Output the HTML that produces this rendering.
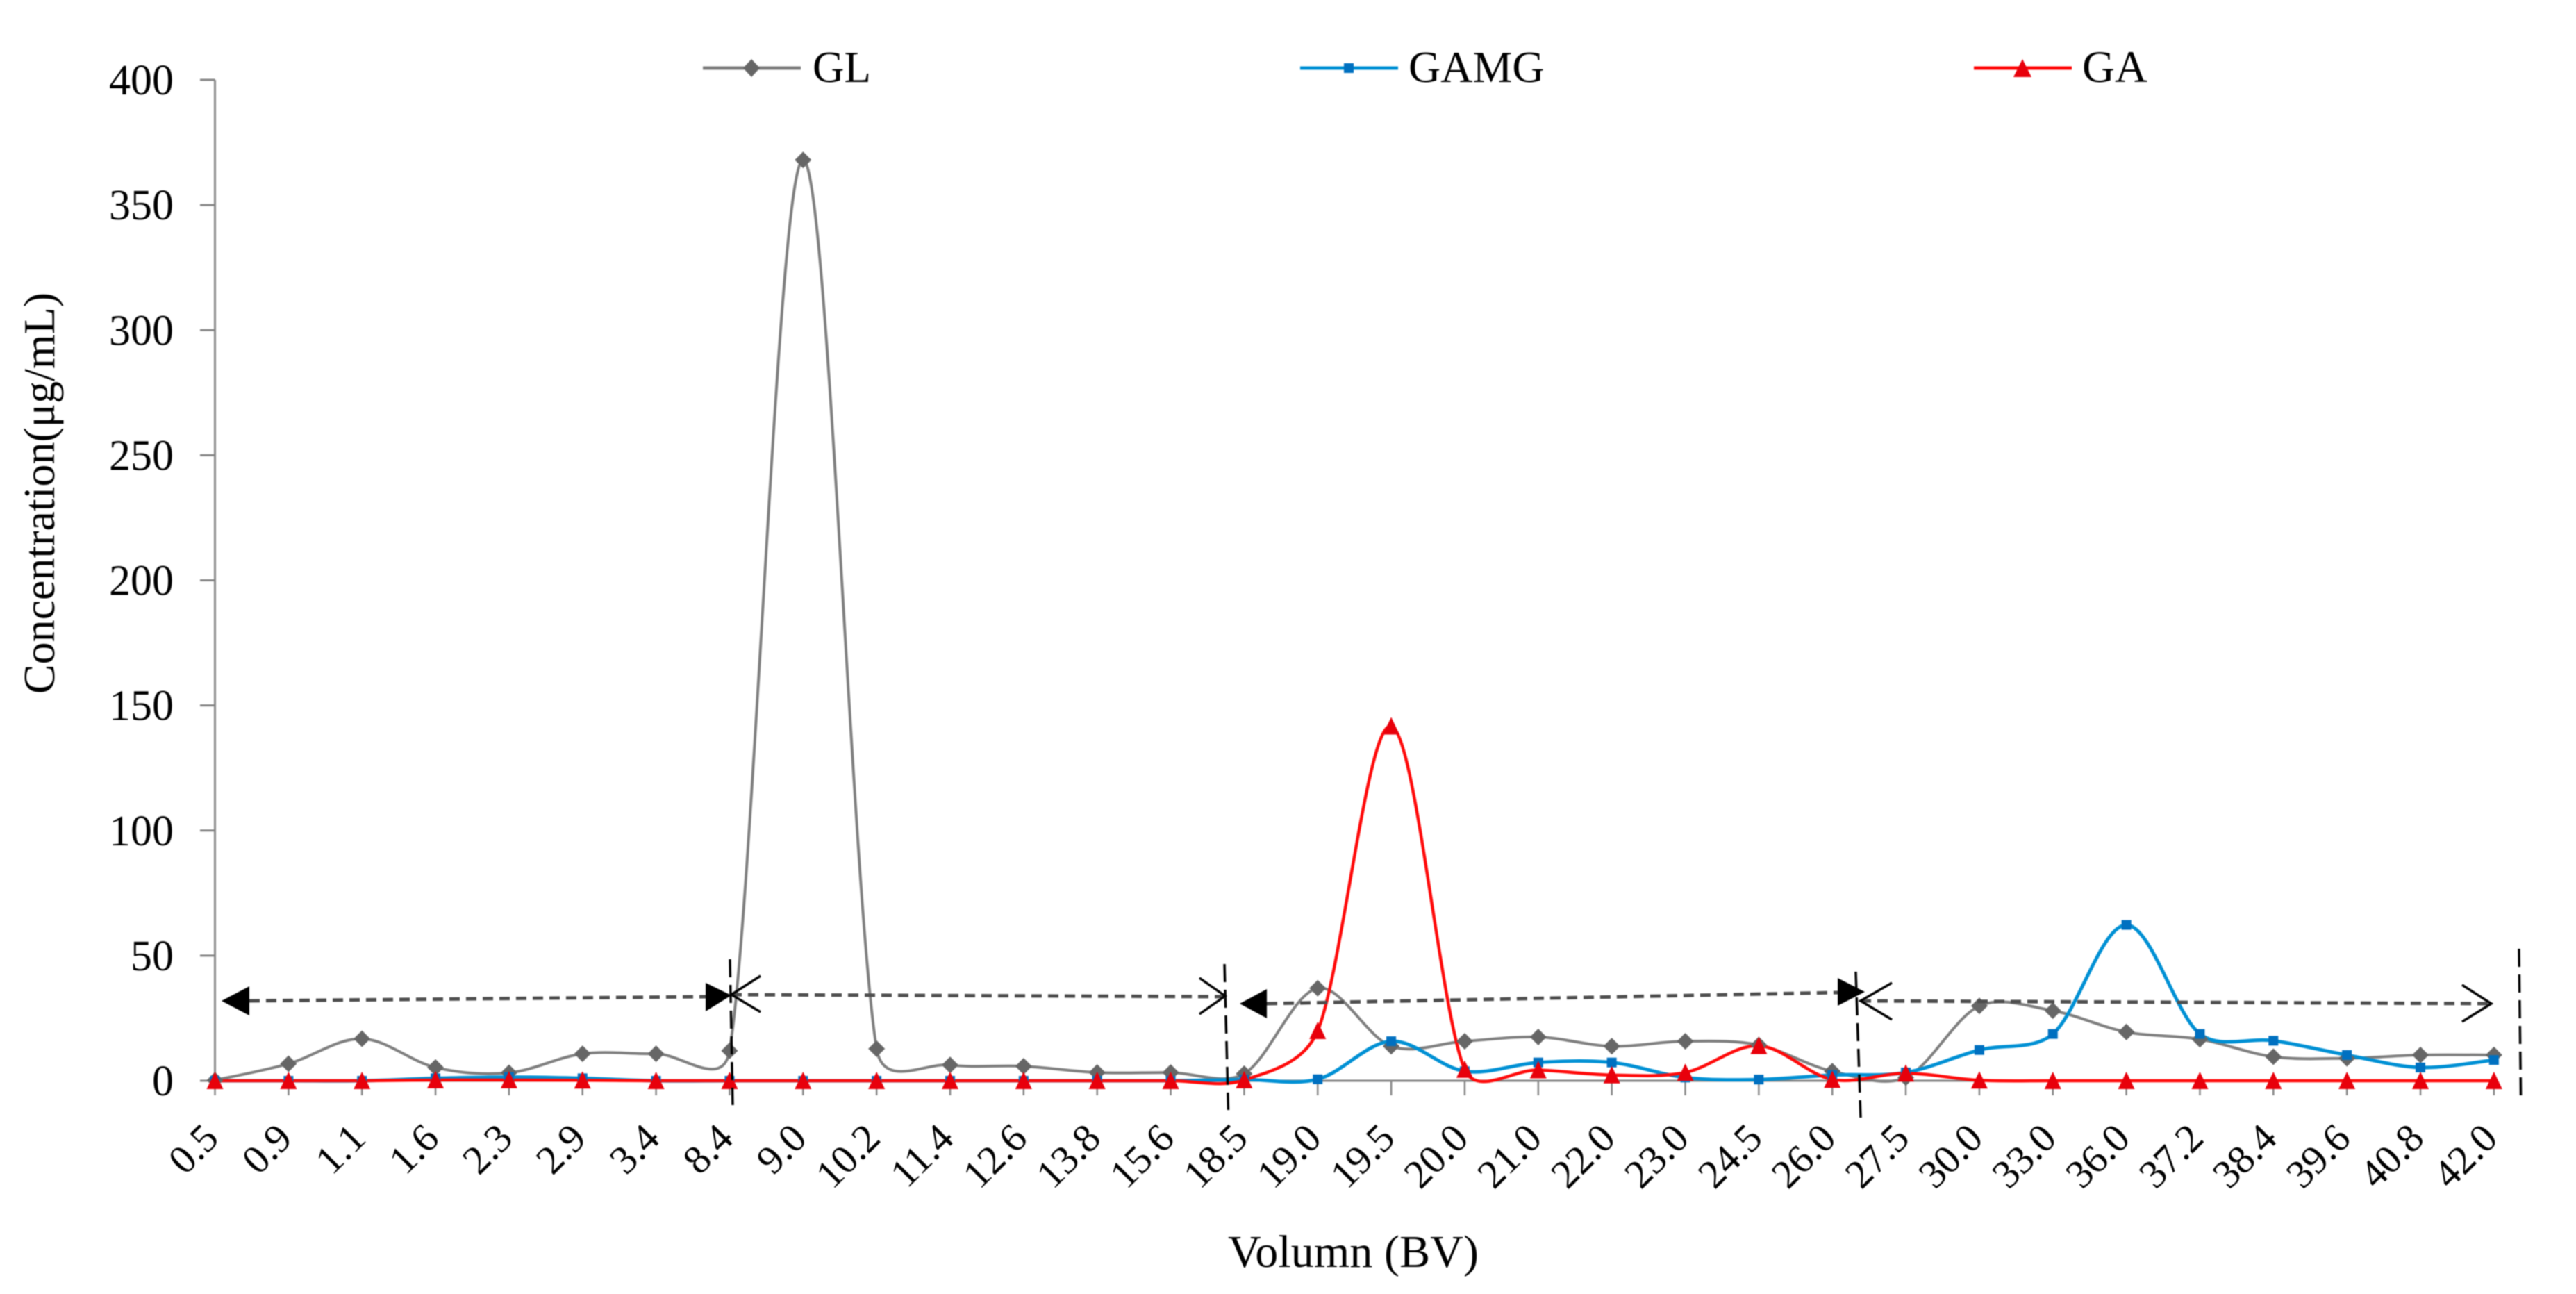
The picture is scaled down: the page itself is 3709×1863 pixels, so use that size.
<!DOCTYPE html>
<html lang="en">
<head>
<meta charset="utf-8">
<title>Concentration vs Volumn chart</title>
<style>
html,body{margin:0;padding:0;background:#fff;}
#chart{display:block;width:3709px;height:1863px;filter:blur(0.7px);font-family:"Liberation Serif",serif;fill:#000;}
</style>
</head>
<body>
<svg id="chart" xmlns="http://www.w3.org/2000/svg" width="3709" height="1863" viewBox="0 0 3709 1863">
  <rect x="0" y="0" width="3709" height="1863" fill="#ffffff"/>
  <g id="axes"></g>
  <g id="series"></g>

  <g stroke="#000" fill="none">
    <line x1="1051" y1="1381" x2="1055" y2="1591" stroke-width="3.5" stroke-dasharray="26 11"/>
    <line x1="1763" y1="1388" x2="1768.5" y2="1598" stroke-width="3.5" stroke-dasharray="26 11"/>
    <line x1="2672" y1="1399" x2="2679" y2="1609" stroke-width="3.5" stroke-dasharray="26 11"/>
    <line x1="3627" y1="1366" x2="3629.5" y2="1577" stroke-width="3.5" stroke-dasharray="26 11"/>

    <line x1="359" y1="1441" x2="1016" y2="1435" stroke="#4d4d4d" stroke-width="5" stroke-dasharray="15 9"/>
    <polygon points="319,1441 359,1420 359,1462" fill="#000" stroke="none"/>
    <polygon points="1053,1433 1016,1415 1016,1456" fill="#000" stroke="none"/>

    <line x1="1053" y1="1432" x2="1764" y2="1435" stroke="#4d4d4d" stroke-width="5" stroke-dasharray="15 9"/>
    <polyline points="1095,1405 1053,1432 1095,1457" stroke-width="3.5"/>
    <polyline points="1727,1408 1764,1434 1727,1460" stroke-width="3.5"/>

    <line x1="1824" y1="1445" x2="2646" y2="1429" stroke="#4d4d4d" stroke-width="5" stroke-dasharray="15 9"/>
    <polygon points="1785,1445 1824,1424 1824,1466" fill="#000" stroke="none"/>
    <polygon points="2685,1428 2646,1408 2646,1448" fill="#000" stroke="none"/>

    <line x1="2679" y1="1441" x2="3587" y2="1445" stroke="#4d4d4d" stroke-width="5" stroke-dasharray="15 9"/>
    <polyline points="2724,1415 2679,1441 2724,1468" stroke-width="3.5"/>
    <polyline points="3545,1418 3587,1445 3545,1471" stroke-width="3.5"/>
  </g>

  <g>
    <g>
      <line x1="1012" y1="98" x2="1153" y2="98" stroke="#7f7f7f" stroke-width="5"/>
      <polygon points="1082,85 1094,98 1082,111 1070,98" fill="#666666"/>
      <text x="1170" y="118" font-size="63">GL</text>
    </g>
    <g>
      <line x1="1872" y1="98" x2="2013" y2="98" stroke="#0090d4" stroke-width="5"/>
      <rect x="1935" y="91" width="14" height="14" fill="#0070c0"/>
      <text x="2028" y="118" font-size="64">GAMG</text>
    </g>
    <g>
      <line x1="2842" y1="98" x2="2983" y2="98" stroke="#ff0a0a" stroke-width="5"/>
      <polygon points="2912,85 2925,111 2899,111" fill="#e8000b"/>
      <text x="2998" y="118" font-size="65">GA</text>
    </g>
  </g>

  <text x="1768" y="1824" font-size="66" textLength="361">Volumn (BV)</text>
  <text transform="translate(78,710) rotate(-90)" text-anchor="middle" font-size="64">Concentration(μg/mL)</text>
</svg>

<script>
var categories = ["0.5","0.9","1.1","1.6","2.3","2.9","3.4","8.4","9.0","10.2","11.4","12.6","13.8","15.6","18.5","19.0","19.5","20.0","21.0","22.0","23.0","24.5","26.0","27.5","30.0","33.0","36.0","37.2","38.4","39.6","40.8","42.0"];
var yTicks = [0,50,100,150,200,250,300,350,400];
var glValues = [0.2,6.8,16.8,5.3,3.2,10.8,10.8,12,368,12.8,6.3,5.8,3.3,3.3,2.8,37,13.8,15.8,17.5,13.8,15.8,14.3,3.8,1.3,29.9,28,19.5,16.6,9.6,9,10.3,10.3];
var gamgValues = [0,0,0,1,1.5,1,0,0,0,0,0,0,0,0,0.5,0.6,15.8,3.8,7.3,7.3,1.3,0.5,2.3,3.3,12.3,18.7,62.3,18.7,16,10.3,5.3,8.3];
var gaValues = [0,0,0,0.3,0.3,0.2,0,0,0,0,0,0,0,0,0.3,20,141.7,4.5,4.3,2.3,3.3,14,0.5,3,0.2,0,0,0,0,0,0,0];

var svgNS = 'http://www.w3.org/2000/svg';
function xPos(i){ return 309.5 + i * 105.85; }
function yPos(v){ return 1556 - v * 3.6025; }
function make(tag, parent){
  var el = document.createElementNS(svgNS, tag);
  parent.appendChild(el);
  return el;
}
function dist(a, b){ return Math.sqrt((a[0]-b[0])*(a[0]-b[0]) + (a[1]-b[1])*(a[1]-b[1])); }
function handles(p0, p1, p2){
  var d1 = dist(p0, p1), d2 = dist(p1, p2);
  var s = d1 + d2 || 1;
  var k1 = Math.min(1, Math.pow(2 * d1 / s, 0.7));
  var k2 = Math.min(1, Math.pow(2 * d2 / s, 0.7));
  var tx = (p2[0] - p0[0]) / 6, ty = (p2[1] - p0[1]) / 6;
  return {
    bx: p1[0] - tx * k1, by: p1[1] - ty * k1,
    ax: p1[0] + tx * k2, ay: p1[1] + ty * k2
  };
}
function smoothPath(values){
  var pts = values.map(function(v,i){ return [xPos(i), yPos(v)]; });
  var d = 'M' + pts[0][0] + ' ' + pts[0][1];
  for (var i = 0; i < pts.length - 1; i++){
    var p0 = pts[Math.max(i-1,0)], p1 = pts[i], p2 = pts[i+1], p3 = pts[Math.min(i+2,pts.length-1)];
    var h1 = handles(p0, p1, p2), h2 = handles(p1, p2, p3);
    d += ' C' + h1.ax.toFixed(1) + ' ' + h1.ay.toFixed(1) + ' ' + h2.bx.toFixed(1) + ' ' + h2.by.toFixed(1) + ' ' + p2[0].toFixed(1) + ' ' + p2[1].toFixed(1);
  }
  return d;
}

var axes = document.getElementById('axes');
var series = document.getElementById('series');

var yAxis = make('line', axes);


yAxis.setAttribute('x1', xPos(0));
yAxis.setAttribute('x2', xPos(0));
yAxis.setAttribute('y1', yPos(400));
yAxis.setAttribute('y2', yPos(0));
yAxis.setAttribute('stroke', '#868686');
yAxis.setAttribute('stroke-width', '3');

var xAxis = make('line', axes);


xAxis.setAttribute('x1', xPos(0));
xAxis.setAttribute('x2', xPos(categories.length - 1));
xAxis.setAttribute('y1', yPos(0));
xAxis.setAttribute('y2', yPos(0));
xAxis.setAttribute('stroke', '#868686');
xAxis.setAttribute('stroke-width', '3');

yTicks.forEach(function(t){
  var tick = make('line', axes);
  
  
  tick.setAttribute('x1', 288);
  tick.setAttribute('x2', xPos(0));
  tick.setAttribute('y1', yPos(t));
  tick.setAttribute('y2', yPos(t));
  tick.setAttribute('stroke', '#868686');
  tick.setAttribute('stroke-width', '3');
  var label = make('text', axes);
  
  
  label.setAttribute('x', 250);
  label.setAttribute('y', yPos(t) + 21);
  label.setAttribute('text-anchor', 'end');
  label.setAttribute('font-size', '62');
  label.textContent = t;
});

categories.forEach(function(c, i){
  var tick = make('line', axes);
  
  
  tick.setAttribute('x1', xPos(i));
  tick.setAttribute('x2', xPos(i));
  tick.setAttribute('y1', yPos(0));
  tick.setAttribute('y2', 1577);
  tick.setAttribute('stroke', '#868686');
  tick.setAttribute('stroke-width', '2.5');
  var label = make('text', axes);
  
  
  label.setAttribute('transform', 'translate(' + (xPos(i) + 8) + ',1642) rotate(-45)');
  label.setAttribute('text-anchor', 'end');
  label.setAttribute('font-size', '58');
  label.textContent = c;
});

var glLine = make('path', series);


glLine.setAttribute('d', smoothPath(glValues));
glLine.setAttribute('fill', 'none');
glLine.setAttribute('stroke', '#7f7f7f');
glLine.setAttribute('stroke-width', '4');

var gamgLine = make('path', series);


gamgLine.setAttribute('d', smoothPath(gamgValues));
gamgLine.setAttribute('fill', 'none');
gamgLine.setAttribute('stroke', '#0090d4');
gamgLine.setAttribute('stroke-width', '5');

var gaLine = make('path', series);


gaLine.setAttribute('d', smoothPath(gaValues));
gaLine.setAttribute('fill', 'none');
gaLine.setAttribute('stroke', '#ff0a0a');
gaLine.setAttribute('stroke-width', '4.5');

glValues.forEach(function(v, i){
  var x = xPos(i), y = yPos(v);
  var m = make('polygon', series);
  
  
  m.setAttribute('points', x + ',' + (y-12) + ' ' + (x+12) + ',' + y + ' ' + x + ',' + (y+12) + ' ' + (x-12) + ',' + y);
  m.setAttribute('fill', '#666666');
});
gamgValues.forEach(function(v, i){
  var m = make('rect', series);
  
  
  m.setAttribute('x', xPos(i) - 7);
  m.setAttribute('y', yPos(v) - 7);
  m.setAttribute('width', 14);
  m.setAttribute('height', 14);
  m.setAttribute('fill', '#0070c0');
});
gaValues.forEach(function(v, i){
  var x = xPos(i), y = yPos(v);
  var m = make('polygon', series);
  
  
  m.setAttribute('points', x + ',' + (y-13) + ' ' + (x+12) + ',' + (y+12) + ' ' + (x-12) + ',' + (y+12));
  m.setAttribute('fill', '#e8000b');
});
</script>
</body>
</html>
